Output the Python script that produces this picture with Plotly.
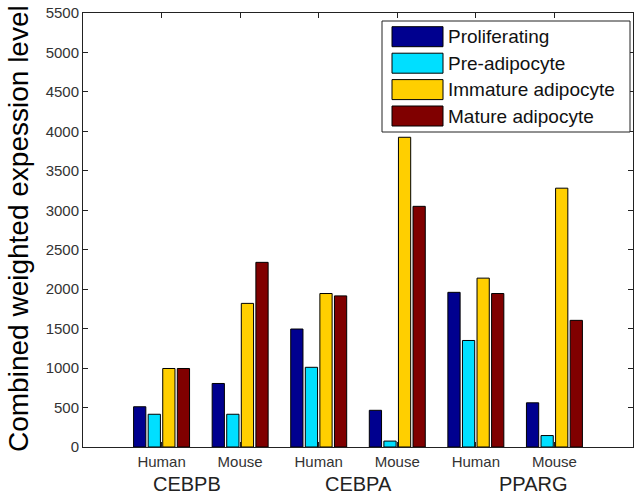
import plotly.graph_objects as go

# ---------------- data ----------------
categories = ["Human", "Mouse", "Human", "Mouse", "Human", "Mouse"]
genes = ["CEBPB", "CEBPA", "PPARG"]
series_names = ["Proliferating", "Pre-adipocyte", "Immature adipocyte", "Mature adipocyte"]
proliferating = [510, 805, 1495, 465, 1960, 560]
pre_adipocyte = [415, 415, 1010, 75, 1350, 145]
immature_adipocyte = [995, 1820, 1945, 3925, 2140, 3280]
mature_adipocyte = [995, 2340, 1915, 3050, 1945, 1605]
y_ticks = list(range(0, 5501, 500))

# ---------------- styling ----------------
colors = ["#00008F", "#00DFFF", "#FFCF00", "#800000"]
FONT = "Arial, Liberation Sans, Helvetica, sans-serif"
W, H = 634, 497
L, R, T, B = 83, 1, 13, 50
plot_w = W - L - R
plot_h = H - T - B


def px_x(p):
    return (p - L) / plot_w


def px_y(p):
    return (H - B - p) / plot_h


x_pos = list(range(1, len(categories) + 1))
all_series = [proliferating, pre_adipocyte, immature_adipocyte, mature_adipocyte]

fig = go.Figure()
for name, vals, col in zip(series_names, all_series, colors):
    fig.add_trace(go.Bar(
        x=x_pos, y=vals, name=name, showlegend=False,
        marker=dict(color=col, line=dict(color="black", width=1)),
    ))

# group (gene) labels placed under pairs of categories
gene_label_x = [1.32, 3.5, 5.73]
annotations = []
for g, gx in zip(genes, gene_label_x):
    annotations.append(dict(
        x=gx, y=px_y(484), xref="x", yref="paper", text=g, showarrow=False,
        xanchor="center", yanchor="middle",
        font=dict(family=FONT, size=20, color="#222"),
    ))

# y-axis title
annotations.append(dict(
    x=px_x(19), y=px_y(229), xref="paper", yref="paper",
    text="Combined weighted expession level", textangle=-90, showarrow=False,
    xanchor="center", yanchor="middle",
    font=dict(family=FONT, size=28, color="black"),
))

# custom legend (MATLAB-style wide patches)
shapes = []
box = dict(x0=382, x1=630, y0=21, y1=132)
shapes.append(dict(type="rect", xref="paper", yref="paper",
                   x0=px_x(box["x0"]), x1=px_x(box["x1"]),
                   y0=px_y(box["y1"]), y1=px_y(box["y0"]),
                   line=dict(color="#222", width=1), fillcolor="white", layer="above"))
row_centers = [36.7, 63.2, 89.6, 116.0]
for name, col, cy in zip(series_names, colors, row_centers):
    shapes.append(dict(type="rect", xref="paper", yref="paper",
                       x0=px_x(392), x1=px_x(443),
                       y0=px_y(cy + 10), y1=px_y(cy - 10),
                       line=dict(color="black", width=1), fillcolor=col, layer="above"))
    annotations.append(dict(
        x=px_x(446), y=px_y(cy), xref="paper", yref="paper", text=name,
        showarrow=False, xanchor="left", yanchor="middle",
        font=dict(family=FONT, size=19, color="#111"),
    ))

fig.update_layout(
    width=W, height=H,
    margin=dict(l=L, r=R, t=T, b=B, pad=0),
    paper_bgcolor="white", plot_bgcolor="white",
    barmode="group", bargap=0.258, bargroupgap=0.16,
    showlegend=False,
    annotations=annotations, shapes=shapes,
    font=dict(family=FONT, color="#222"),
)
fig.update_xaxes(
    range=[0, 7], tickvals=x_pos, ticktext=categories,
    ticks="inside", ticklen=5, tickcolor="#222", tickwidth=1,
    showline=True, linecolor="#222", linewidth=1, mirror="ticks",
    showgrid=False, zeroline=False,
    tickfont=dict(family=FONT, size=15, color="#333"),
    ticklabelstandoff=1,
)
fig.update_yaxes(
    range=[0, 5500], tickvals=y_ticks, tickformat="d",
    ticks="inside", ticklen=5, tickcolor="#222", tickwidth=1,
    showline=True, linecolor="#222", linewidth=1, mirror="ticks",
    showgrid=False, zeroline=False,
    tickfont=dict(family=FONT, size=15, color="#333"),
)

fig.write_html(
    "out.html",
    config={"displayModeBar": False},
    post_script="document.body.style.margin='0';document.body.style.overflow='hidden';",
)
